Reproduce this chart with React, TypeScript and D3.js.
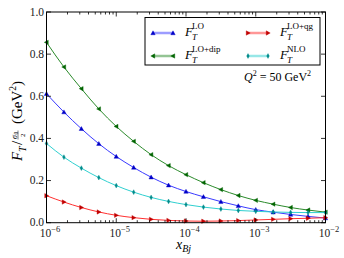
import { useRef, useEffect } from "react";
import * as d3 from "d3";

// x positions as log10(x_Bj)
const xExp = [-6, -5.75, -5.5, -5.25, -5, -4.75, -4.5, -4.25, -4, -3.75, -3.5, -3.25, -3, -2.75, -2.5, -2.25, -2];

const lo = [0.612, 0.525, 0.446, 0.375, 0.314, 0.262, 0.216, 0.178, 0.148, 0.123, 0.1, 0.08, 0.062, 0.05, 0.039, 0.03, 0.022];
const loDip = [0.856, 0.739, 0.636, 0.54, 0.457, 0.386, 0.323, 0.271, 0.228, 0.19, 0.157, 0.129, 0.106, 0.088, 0.072, 0.06, 0.05];
const loQg = [0.128, 0.098, 0.072, 0.051, 0.035, 0.024, 0.016, 0.011, 0.008, 0.007, 0.008, 0.01, 0.013, 0.016, 0.019, 0.021, 0.024];
const nlo = [0.376, 0.311, 0.259, 0.214, 0.176, 0.145, 0.12, 0.101, 0.086, 0.074, 0.065, 0.058, 0.054, 0.051, 0.049, 0.048, 0.048];

const yTicks = [0, 0.2, 0.4, 0.6, 0.8, 1.0];
const xTickExp = [-6, -5, -4, -3, -2];

const series = [
  { key: "lo", values: lo, label: "LO", line: "#3a3aff", fill: "#0000c8", marker: "up" },
  { key: "dip", values: loDip, label: "LO+dip", line: "#2a8a2a", fill: "#006400", marker: "left" },
  { key: "qg", values: loQg, label: "LO+qg", line: "#ff3030", fill: "#c00000", marker: "right" },
  { key: "nlo", values: nlo, label: "NLO", line: "#30d0d0", fill: "#008b8b", marker: "diamond" },
];

const FONT = "Liberation Serif";

function markerPath(kind: string, s: number) {
  if (kind === "up") return `M0,${-s}L${s},${s * 0.8}L${-s},${s * 0.8}Z`;
  if (kind === "left") return `M${-s},0L${s * 0.8},${-s}L${s * 0.8},${s}Z`;
  if (kind === "right") return `M${s},0L${-s * 0.8},${-s}L${-s * 0.8},${s}Z`;
  return `M0,${-s * 1.1}L${s * 0.6},0L0,${s * 1.1}L${-s * 0.6},0Z`;
}

function drawChart(svgRef: any) {
  const width = 344, height = 258;
  const left = 46.5, right = 325.5, top = 12, bottom = 222.7;

  let svg = d3.select(svgRef.current);
  svg.selectAll("*").remove();
  svg.attr("width", width).attr("height", height).attr("viewBox", `0 0 ${width} ${height}`);

  const x = d3.scaleLog().domain([1e-6, 1e-2]).range([left, right]);
  const y = d3.scaleLinear().domain([0, 1]).range([bottom, top]);

  const g = svg.append("g").attr("font-family", FONT);

  // curves
  const line = d3.line<number>()
    .x((d, i) => x(Math.pow(10, xExp[i])))
    .y(d => y(d))
    .curve(d3.curveMonotoneX);

  series.forEach(s => {
    g.append("path")
      .attr("d", line(s.values))
      .attr("fill", "none")
      .attr("stroke", s.line)
      .attr("stroke-width", 1);
    g.selectAll(null)
      .data(s.values)
      .join("path")
      .attr("transform", (d, i) => `translate(${x(Math.pow(10, xExp[i]))},${y(d)})`)
      .attr("d", markerPath(s.marker, 2.2))
      .attr("fill", s.fill)
      .attr("stroke", s.fill)
      .attr("stroke-width", 0.4);
  });

  // frame
  g.append("rect")
    .attr("x", left).attr("y", top)
    .attr("width", right - left).attr("height", bottom - top)
    .attr("fill", "none").attr("stroke", "#000").attr("stroke-width", 1);

  // x ticks (log, inward, top and bottom)
  const minor: number[] = [];
  xTickExp.slice(0, -1).forEach(e => {
    for (let k = 2; k <= 9; k++) minor.push(k * Math.pow(10, e));
  });
  const major = xTickExp.map(e => Math.pow(10, e));
  const ticks = g.append("g").attr("stroke", "#000").attr("stroke-width", 0.8);
  major.forEach(v => {
    ticks.append("line").attr("x1", x(v)).attr("x2", x(v)).attr("y1", bottom).attr("y2", bottom - 4.5);
    ticks.append("line").attr("x1", x(v)).attr("x2", x(v)).attr("y1", top).attr("y2", top + 4.5);
  });
  minor.forEach(v => {
    ticks.append("line").attr("x1", x(v)).attr("x2", x(v)).attr("y1", bottom).attr("y2", bottom - 2.5);
    ticks.append("line").attr("x1", x(v)).attr("x2", x(v)).attr("y1", top).attr("y2", top + 2.5);
  });
  yTicks.forEach(v => {
    ticks.append("line").attr("x1", left).attr("x2", left + 4.5).attr("y1", y(v)).attr("y2", y(v));
    ticks.append("line").attr("x1", right).attr("x2", right - 4.5).attr("y1", y(v)).attr("y2", y(v));
  });

  // tick labels
  yTicks.forEach(v => {
    g.append("text")
      .attr("x", left - 2.5).attr("y", y(v) + 3.5)
      .attr("text-anchor", "end")
      .attr("font-size", 11.5).attr("fill", "#222")
      .text(d3.format(".1f")(v));
  });
  xTickExp.forEach(e => {
    const t = g.append("text")
      .attr("x", x(Math.pow(10, e)) + 3.5).attr("y", bottom + 14)
      .attr("text-anchor", "middle")
      .attr("font-size", 11.5).attr("fill", "#222");
    t.append("tspan").text("10");
    t.append("tspan").attr("dy", -4.5).attr("font-size", 8.5).text(`\u2212${-e}`);
  });

  // axis titles
  const xt = g.append("text")
    .attr("x", 176).attr("y", 249)
    .attr("font-size", 14).attr("font-style", "italic");
  xt.append("tspan").text("x");
  xt.append("tspan").attr("dy", 3).attr("font-size", 10).text("Bj");

  const yg = g.append("g").attr("transform", `translate(22,111) rotate(-90)`);
  const tx = (x0: number, y0: number, s: number, str: string, it = false) =>
    yg.append("text").attr("x", x0).attr("y", y0).attr("font-size", s)
      .attr("font-style", it ? "italic" : "normal").text(str);
  tx(-50, 0, 15, "F", true);
  tx(-41, 3.5, 10, "T", true);
  tx(-34, 0, 15, "/");
  tx(-28, -5.5, 8, "σ", true);
  tx(-23.5, -3.8, 5.5, "0");
  yg.append("line").attr("x1", -28.5).attr("x2", -19.5).attr("y1", -4).attr("y2", -4)
    .attr("stroke", "#000").attr("stroke-width", 0.5);
  tx(-26, 3, 7, "2");
  const gv = tx(-13, 0, 15, "(GeV");
  gv.append("tspan").attr("dy", -6).attr("font-size", 9.5).text("2");
  gv.append("tspan").attr("dy", 6).text(")");

  // legend
  const lg = g.append("g");
  lg.append("rect")
    .attr("x", 145).attr("y", 17.5).attr("width", 175).attr("height", 47.5)
    .attr("fill", "#fff").attr("stroke", "#000").attr("stroke-width", 1);
  const pos = [
    { x: 153, y: 33 }, { x: 153, y: 56 }, { x: 248, y: 33 }, { x: 248, y: 56 },
  ];
  series.forEach((s, i) => {
    const p = pos[i];
    lg.append("line")
      .attr("x1", p.x).attr("x2", p.x + 20).attr("y1", p.y).attr("y2", p.y)
      .attr("stroke", s.line).attr("stroke-opacity", 0.5).attr("stroke-width", 2.5);
    [p.x, p.x + 20].forEach(mx => {
      lg.append("path")
        .attr("transform", `translate(${mx},${p.y})`)
        .attr("d", markerPath(s.marker, 2.2))
        .attr("fill", s.fill).attr("stroke", s.fill).attr("stroke-width", 0.4);
    });
    const t = lg.append("text")
      .attr("x", p.x + 32).attr("y", p.y + 3)
      .attr("font-size", 13);
    t.append("tspan").attr("font-style", "italic").text("F");
    t.append("tspan").attr("dx", -1).attr("dy", 4).attr("font-size", 9).attr("font-style", "italic").text("T");
    t.append("tspan").attr("dx", -5).attr("dy", -11).attr("font-size", 9).text(s.label);
  });

  const q = g.append("text")
    .attr("x", 244).attr("y", 81)
    .attr("font-size", 12);
  q.append("tspan").attr("font-style", "italic").text("Q");
  q.append("tspan").attr("dy", -5).attr("font-size", 8).text("2");
  q.append("tspan").attr("dy", 5).text(" = 50 GeV");
  q.append("tspan").attr("dy", -5).attr("font-size", 8).text("2");
}

export default function App() {
  const svg = useRef<SVGSVGElement>(null);
  useEffect(() => {
    document.body.style.margin = "0";
    drawChart(svg);
  }, [svg]);
  return <svg ref={svg} style={{ display: "block", background: "#fff" }} />;
}
